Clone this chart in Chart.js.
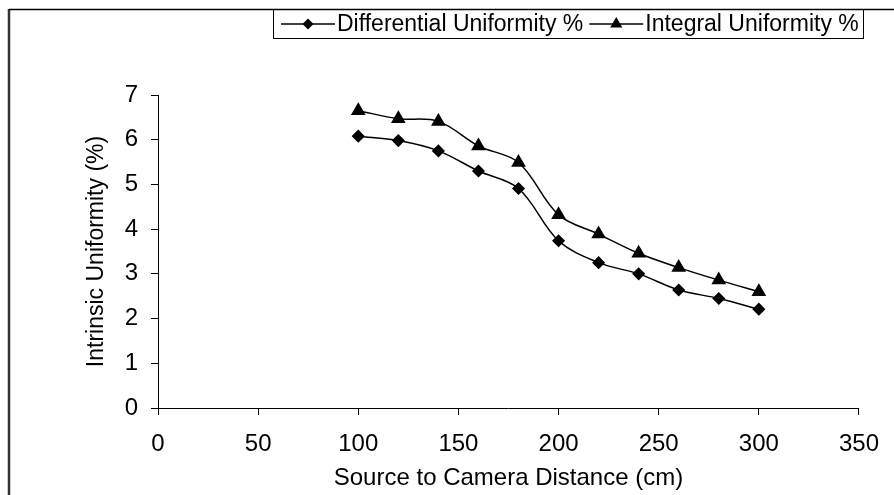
<!DOCTYPE html>
<html>
<head>
<meta charset="utf-8">
<script src="https://cdn.jsdelivr.net/npm/chart.js@4/dist/chart.umd.min.js"></script>
<style>
  body { margin: 0; background: #fff; }
  canvas { display: block; }
</style>
</head>
<body>
<canvas id="uniformity_chart" width="894" height="495"></canvas>
<script>
// values
var distance = [100, 120, 140, 160, 180, 200, 220, 240, 260, 280, 300];
var differential = [6.08, 5.98, 5.75, 5.30, 4.91, 3.74, 3.25, 3.00, 2.64, 2.45, 2.21];
var integral = [6.65, 6.47, 6.41, 5.86, 5.49, 4.32, 3.89, 3.46, 3.14, 2.86, 2.60];
var seriesNames = ['Differential Uniformity %', 'Integral Uniformity %'];
var xRange = [0, 350, 50];
var yRange = [0, 7, 1];

var fontFamily = '"Liberation Sans", Arial, sans-serif';

function toPoints(ys) {
  return ys.map(function (v, i) { return { x: distance[i], y: v }; });
}

// small marker drawing for the legend
function marker(ctx, style, x, y, r) {
  ctx.beginPath();
  if (style === 'rectRot') {
    ctx.moveTo(x - r, y); ctx.lineTo(x, y - r); ctx.lineTo(x + r, y); ctx.lineTo(x, y + r);
  } else {
    ctx.moveTo(x, y - r); ctx.lineTo(x + r * 0.866, y + r / 2); ctx.lineTo(x - r * 0.866, y + r / 2);
  }
  ctx.closePath();
  ctx.fill();
}

// white page, the outer frame and the boxed legend on top
Chart.register({
  id: 'frameAndLegend',
  beforeDraw: function (chart) {
    var ctx = chart.ctx;
    ctx.save();
    ctx.fillStyle = '#fff';
    ctx.fillRect(0, 0, chart.width, chart.height);
    ctx.restore();
  },
  afterDraw: function (chart) {
    var ctx = chart.ctx;
    ctx.save();
    ctx.strokeStyle = '#333';
    ctx.lineWidth = 2.5;
    ctx.beginPath(); ctx.moveTo(9, chart.height); ctx.lineTo(9, 9); ctx.stroke();
    ctx.strokeStyle = '#000';
    ctx.lineWidth = 1.5;
    ctx.beginPath(); ctx.moveTo(9, 9.5); ctx.lineTo(chart.width, 9.5); ctx.stroke();

    ctx.lineWidth = 1;
    ctx.strokeRect(273.5, 9.5, 590, 29);

    ctx.font = '23px ' + fontFamily;
    ctx.textBaseline = 'middle';
    ctx.fillStyle = '#000';
    var y = 24, x = 281;
    chart.data.datasets.forEach(function (ds) {
      ctx.lineWidth = 1.5;
      ctx.beginPath(); ctx.moveTo(x, y); ctx.lineTo(x + 54, y); ctx.stroke();
      marker(ctx, ds.pointStyle, x + 27, y, ds.pointStyle === 'rectRot' ? 5.5 : 7);
      ctx.fillText(ds.label, x + 56, y + 1);
      x += 56 + ctx.measureText(ds.label).width + 6;
    });
    ctx.restore();
  }
});

var data = {
  datasets: [
    {
      label: seriesNames[0],
      data: toPoints(differential),
      borderColor: '#000',
      backgroundColor: '#000',
      borderWidth: 1.5,
      pointStyle: 'rectRot',
      pointRadius: 5.5,
      tension: 0.35
    },
    {
      label: seriesNames[1],
      data: toPoints(integral),
      borderColor: '#000',
      backgroundColor: '#000',
      borderWidth: 1.5,
      pointStyle: 'triangle',
      pointRadius: 7,
      tension: 0.35
    }
  ]
};

var chart = new Chart('uniformity_chart', {
  type: 'line',
  data: data,
  options: {
    responsive: false,
    animation: false,
    layout: { padding: { left: 0, top: 95, right: 31, bottom: 0 } },
    plugins: { legend: { display: false }, tooltip: { enabled: false } },
    scales: {
      x: {
        type: 'linear',
        min: xRange[0], max: xRange[1],
        ticks: { stepSize: xRange[2], color: '#000', padding: 15, maxRotation: 0, font: { family: fontFamily, size: 24 } },
        grid: { drawOnChartArea: false, drawTicks: true, tickLength: 7, color: '#000' },
        border: { color: '#000', width: 1 },
        title: { display: true, text: 'Source to Camera Distance (cm)', color: '#000', padding: { top: 0, bottom: 2 }, font: { family: fontFamily, size: 24 } },
        afterFit: function (scale) { scale.height = 87; }
      },
      y: {
        min: yRange[0], max: yRange[1],
        ticks: { stepSize: yRange[2], color: '#000', padding: 13, font: { family: fontFamily, size: 24 } },
        grid: { drawOnChartArea: false, drawTicks: true, tickLength: 7, color: '#000' },
        border: { color: '#000', width: 1 },
        title: { display: true, text: 'Intrinsic Uniformity (%)', color: '#000', padding: { top: 83, bottom: 0 }, font: { family: fontFamily, size: 23 } },
        afterFit: function (scale) { scale.width = 158; }
      }
    }
  }
});
</script>
</body>
</html>
